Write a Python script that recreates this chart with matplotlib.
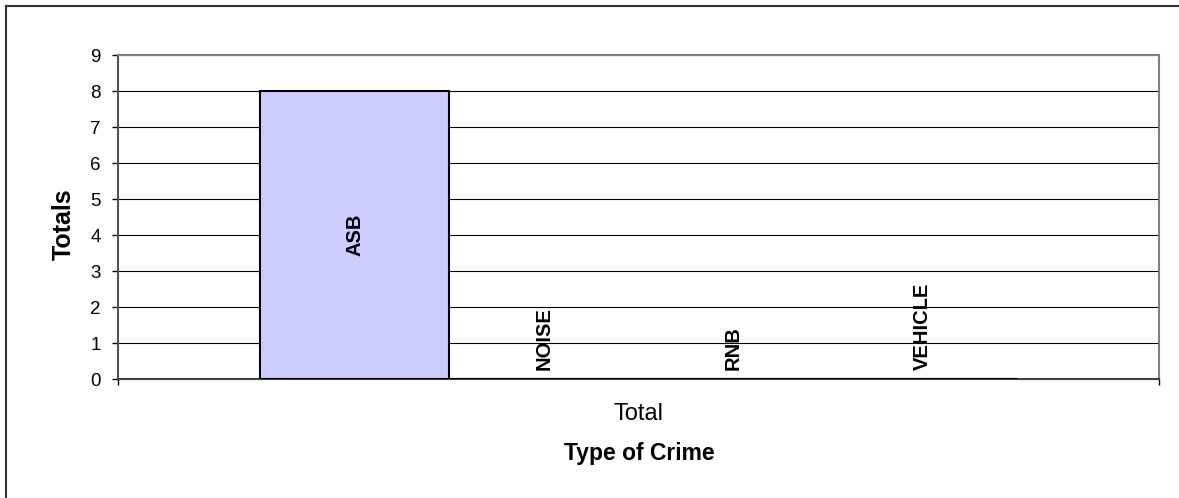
import matplotlib
matplotlib.use("Agg")
import matplotlib.pyplot as plt
from matplotlib.lines import Line2D
from matplotlib.ticker import MultipleLocator, FixedLocator

plt.rcParams["font.family"] = ["Liberation Sans", "DejaVu Sans"]

# ── Data ──────────────────────────────────────────────────────────────────────
category = "Total"
series = ["ASB", "NOISE", "RNB", "VEHICLE"]
totals = [8, 0, 0, 0]

W, H, DPI = 1179, 498, 100
fig = plt.figure(figsize=(W / DPI, H / DPI), dpi=DPI)
ax = fig.add_axes([118 / W, 1 - 379 / H, (1159 - 118) / W, (379 - 55) / H])

# clustered bars inside the single category, Excel-style 150% gap width
n = len(series)
bar_w = 1.0 / (n + 1.5)
offsets = [-0.5 + 0.75 * bar_w + (i + 0.5) * bar_w for i in range(n)]

ax.bar(offsets, totals, width=bar_w, color="#CCCCFF", edgecolor="black",
       linewidth=1.5, zorder=3)

px = 72 / DPI  # one pixel in points
for x, v, name in zip(offsets, totals, series):
    if v > 0:
        ax.text(x, v / 2, name, rotation=90, ha="center", va="center",
                fontsize=14.5, fontweight="bold", zorder=4)
    else:
        ax.annotate(name, (x, 0), xytext=(0, 9 * px), textcoords="offset points",
                    rotation=90, ha="center", va="bottom",
                    fontsize=14.5, fontweight="bold", zorder=4)

# ── Axes styling ──────────────────────────────────────────────────────────────
ax.set_xlim(-0.5, 0.5)
ax.set_ylim(0, 9)
ax.yaxis.set_major_locator(MultipleLocator(1))
ax.grid(axis="y", color="black", linewidth=0.8, zorder=1)

ax.set_xticks([0])
ax.set_xticklabels([category], fontsize=17)
ax.tick_params(axis="x", which="major", length=0, pad=17)
ax.xaxis.set_minor_locator(FixedLocator([-0.5, 0.5]))
ax.tick_params(axis="x", which="minor", direction="out", length=6 * px,
               width=1, color="black")
ax.tick_params(axis="y", direction="out", length=6 * px, width=1,
               color="black", labelsize=13.5, pad=8)

for side in ("top", "right"):
    ax.spines[side].set_color("#808080")
    ax.spines[side].set_linewidth(1.5)
ax.spines["left"].set_color("#555555")
ax.spines["left"].set_linewidth(1.5)
ax.spines["bottom"].set_color("#404040")
ax.spines["bottom"].set_linewidth(1.5)

fig.text(639 / W, 1 - 460 / H, "Type of Crime", ha="center", va="baseline",
         fontsize=16.5, fontweight="bold")
fig.text(64 / W, 1 - 224 / H, "Totals", ha="center", va="center",
         rotation=90, fontsize=18, fontweight="bold")

# chart frame (top and left edges)
frame_kw = dict(color="#333333", linewidth=1.5, transform=fig.transFigure)
fig.add_artist(Line2D([6 / W, 1.0], [1 - 6 / H, 1 - 6 / H], **frame_kw))
fig.add_artist(Line2D([6 / W, 6 / W], [0.0, 1 - 6 / H], **frame_kw))

fig.savefig("out.png", dpi=DPI)
